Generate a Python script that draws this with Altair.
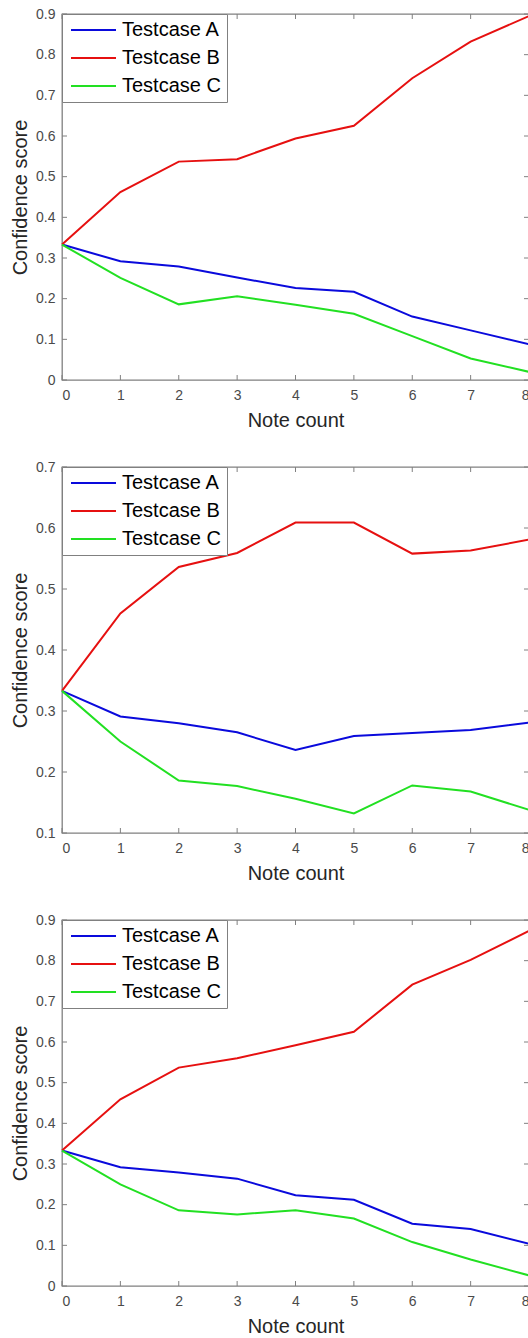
import altair as alt
import pandas as pd

note_count = [0, 1, 2, 3, 4, 5, 6, 7, 8]
cases = ["Testcase A", "Testcase B", "Testcase C"]
case_colors = ["#0a0adc", "#e61010", "#22e022"]

p1_a = [0.333, 0.292, 0.279, 0.252, 0.226, 0.217, 0.156, 0.122, 0.088]
p1_b = [0.333, 0.462, 0.537, 0.543, 0.594, 0.625, 0.742, 0.832, 0.895]
p1_c = [0.333, 0.251, 0.186, 0.206, 0.185, 0.163, 0.108, 0.053, 0.020]

p2_a = [0.333, 0.291, 0.280, 0.265, 0.236, 0.259, 0.264, 0.269, 0.281]
p2_b = [0.333, 0.460, 0.536, 0.559, 0.609, 0.609, 0.558, 0.563, 0.581]
p2_c = [0.333, 0.250, 0.186, 0.177, 0.156, 0.132, 0.178, 0.168, 0.138]

p3_a = [0.333, 0.292, 0.279, 0.264, 0.223, 0.212, 0.153, 0.140, 0.104]
p3_b = [0.333, 0.459, 0.537, 0.560, 0.592, 0.625, 0.741, 0.802, 0.873]
p3_c = [0.333, 0.250, 0.186, 0.176, 0.186, 0.166, 0.108, 0.065, 0.026]

x_ticks = [0, 1, 2, 3, 4, 5, 6, 7, 8]
y_ticks_1 = [0, 0.1, 0.2, 0.3, 0.4, 0.5, 0.6, 0.7, 0.8, 0.9]
y_ticks_2 = [0.1, 0.2, 0.3, 0.4, 0.5, 0.6, 0.7]
y_ticks_3 = [0, 0.1, 0.2, 0.3, 0.4, 0.5, 0.6, 0.7, 0.8, 0.9]

W = 467
H = 366
TL = 5
FRAME = "#808080"
LABEL = "#4a4a4a"
FONT = "Liberation Sans"


def panel(a, b, c, y_ticks):
    df = pd.DataFrame({
        "note": note_count * 3,
        "score": a + b + c,
        "case": [cases[0]] * len(a) + [cases[1]] * len(b) + [cases[2]] * len(c),
    })
    xs = alt.Scale(domain=[x_ticks[0], x_ticks[-1]], nice=False, zero=False)
    ys = alt.Scale(domain=[y_ticks[0], y_ticks[-1]], nice=False, zero=False)
    x_axis = alt.Axis(values=x_ticks, format="d", title="Note count",
                      domain=False, ticks=False, tickSize=0, grid=False,
                      labelPadding=8, titlePadding=8)
    y_axis = alt.Axis(values=y_ticks, format="~g", title="Confidence score",
                      domain=False, ticks=False, tickSize=0, grid=False,
                      labelPadding=7, titlePadding=5)
    X = alt.X("note:Q", scale=xs, axis=x_axis)
    Y = alt.Y("score:Q", scale=ys, axis=y_axis)
    lines = alt.Chart(df).mark_line(strokeWidth=2).encode(
        x=X,
        y=Y,
        color=alt.Color(
            "case:N",
            scale=alt.Scale(domain=cases, range=case_colors),
            legend=alt.Legend(
                title=None, orient="top-left", offset=0, padding=6,
                fillColor="white", strokeColor=FRAME,
                symbolType="M-0.875,0H4.75", symbolSize=256,
                symbolStrokeWidth=2, labelOffset=34, labelFontSize=20,
                labelFont=FONT, labelColor="#000000", labelLimit=400,
                rowPadding=8,
            ),
        ),
    )
    xt = pd.DataFrame({"note": x_ticks})
    yt = pd.DataFrame({"score": y_ticks})
    tick_x_bottom = alt.Chart(xt).mark_rule(color=FRAME, strokeWidth=1).encode(
        x=X, y=alt.value(H), y2=alt.value(H - TL))
    tick_x_top = alt.Chart(xt).mark_rule(color=FRAME, strokeWidth=1).encode(
        x=X, y=alt.value(0), y2=alt.value(TL))
    tick_y_left = alt.Chart(yt).mark_rule(color=FRAME, strokeWidth=1).encode(
        y=Y, x=alt.value(0), x2=alt.value(TL))
    tick_y_right = alt.Chart(yt).mark_rule(color=FRAME, strokeWidth=1).encode(
        y=Y, x=alt.value(W - TL), x2=alt.value(W))
    return alt.layer(lines, tick_x_bottom, tick_x_top, tick_y_left, tick_y_right).properties(
        width=W, height=H)


chart = alt.vconcat(
    panel(p1_a, p1_b, p1_c, y_ticks_1),
    panel(p2_a, p2_b, p2_c, y_ticks_2),
    panel(p3_a, p3_b, p3_c, y_ticks_3),
    spacing=28,
).resolve_scale(color="independent").resolve_legend(color="independent").properties(
    padding={"left": 9, "top": 6, "right": -6, "bottom": 0},
    background="white",
).configure_view(
    stroke=FRAME, strokeWidth=1.3
).configure_axis(
    labelFont=FONT, labelFontSize=14, labelColor=LABEL,
    titleFont=FONT, titleFontSize=20, titleColor="#262626", titleFontWeight="normal",
)

chart.save("out.html", embed_options={"renderer": "svg", "actions": False})
